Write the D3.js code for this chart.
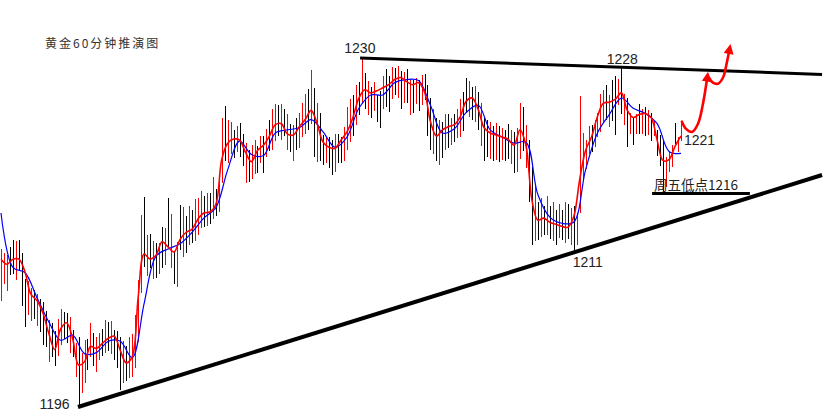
<!DOCTYPE html>
<html><head><meta charset="utf-8">
<script src="https://cdn.jsdelivr.net/npm/d3@7"></script>
<style>body{margin:0;background:#fff}svg{display:block}</style>
</head><body>
<svg id="c" width="832" height="413"></svg>
<script>
// 60-minute bars: high, low, up(1 = red / rising, 0 = black / falling)
const hi=[1211.4,1211.0,1210.8,1211.6,1212.3,1212.2,1212.3,1211.0,1208.5,1208.3,
1207.6,1207.4,1207.0,1206.5,1206.2,1205.4,1204.5,1204.2,1203.4,1204.6,
1205.5,1205.3,1205.2,1204.8,1203.5,1202.2,1202.8,1201.3,1202.5,1202.6,
1204.2,1203.2,1202.8,1203.2,1203.6,1204.5,1204.3,1204.4,1203.5,1203.4,
1202.8,1202.4,1201.9,1202.8,1203.1,1205.0,1208.4,1214.7,1216.5,1212.8,
1212.9,1212.2,1212.0,1212.0,1213.5,1213.4,1216.4,1214.8,1211.2,1212.1,
1215.7,1215.5,1214.6,1215.6,1215.2,1216.3,1216.4,1217.0,1216.6,1216.8,
1216.8,1218.4,1217.2,1218.0,1224.2,1225.3,1224.0,1223.8,1223.0,1223.4,
1223.7,1222.6,1221.7,1221.0,1221.5,1222.0,1221.4,1222.4,1222.4,1223.1,
1224.0,1225.0,1225.5,1225.4,1225.5,1225.0,1224.5,1223.6,1223.5,1224.2,
1224.6,1225.6,1226.5,1227.0,1228.8,1227.1,1225.6,1224.6,1222.5,1222.3,
1222.3,1222.0,1222.6,1222.6,1222.3,1223.3,1225.2,1226.0,1226.4,1227.4,
1227.7,1230.0,1228.5,1227.8,1227.2,1227.7,1226.4,1226.8,1228.2,1228.9,
1228.2,1229.1,1229.0,1229.2,1228.7,1228.6,1228.9,1228.0,1227.9,1228.1,
1227.9,1228.3,1228.4,1227.4,1226.1,1225.0,1224.2,1224.0,1223.8,1224.5,
1224.5,1224.2,1224.5,1225.0,1226.0,1226.7,1228.1,1227.8,1227.2,1227.3,
1226.7,1225.6,1224.2,1224.0,1223.8,1223.4,1223.7,1223.4,1223.2,1223.0,
1223.6,1223.0,1222.8,1223.2,1225.6,1225.2,1223.5,1222.0,1219.4,1217.6,
1216.0,1216.4,1215.6,1216.6,1215.6,1216.0,1215.2,1215.8,1215.2,1216.0,
1215.8,1215.4,1215.6,1214.9,1226.3,1222.7,1222.0,1223.4,1223.5,1224.0,
1224.6,1226.5,1226.9,1227.4,1226.4,1227.9,1228.2,1228.0,1229.0,1226.5,
1226.1,1224.6,1224.2,1224.5,1225.5,1225.0,1225.2,1224.9,1224.6,1223.9,
1223.0,1222.5,1222.0,1220.4,1220.8,1221.5,1223.7,1222.3,1223.8];
const lo=[1206.3,1208.0,1207.3,1208.9,1209.0,1208.4,1209.3,1205.8,1203.8,1205.0,
1204.4,1204.6,1203.9,1203.3,1202.0,1201.8,1200.4,1200.9,1200.0,1201.0,
1202.0,1202.6,1202.2,1201.3,1200.9,1198.9,1196.0,1197.4,1198.3,1199.6,
1200.9,1200.0,1199.4,1200.6,1201.0,1201.3,1201.5,1201.2,1200.6,1199.8,
1197.7,1198.3,1198.5,1198.8,1198.9,1199.8,1202.3,1207.1,1209.6,1208.8,
1209.5,1208.5,1208.6,1209.0,1209.5,1209.8,1211.5,1209.5,1208.0,1207.7,
1211.3,1210.6,1211.0,1211.8,1212.0,1212.2,1212.8,1213.4,1213.5,1213.6,
1213.8,1214.3,1214.6,1215.0,1217.8,1220.0,1219.8,1220.6,1220.3,1220.8,
1220.4,1219.5,1217.8,1217.9,1218.2,1218.7,1218.8,1219.8,1218.8,1220.4,
1220.9,1221.0,1221.9,1222.4,1222.0,1222.4,1221.0,1220.8,1220.0,1221.0,
1221.2,1222.3,1222.6,1223.0,1223.6,1220.4,1219.9,1220.0,1219.6,1219.8,
1219.3,1218.6,1218.9,1219.8,1219.8,1220.0,1221.0,1221.8,1222.4,1223.5,
1224.4,1225.5,1225.0,1224.4,1224.2,1224.8,1223.8,1223.2,1225.0,1225.2,
1224.7,1226.0,1226.4,1226.1,1225.0,1225.6,1225.6,1224.4,1224.6,1225.5,
1224.8,1225.4,1225.9,1222.4,1221.0,1220.6,1220.0,1219.6,1220.3,1221.0,
1221.2,1221.5,1221.8,1222.2,1222.3,1222.9,1224.6,1224.3,1224.0,1223.8,
1223.0,1221.4,1220.0,1220.4,1220.2,1220.0,1220.1,1219.9,1220.1,1220.0,
1220.2,1219.7,1218.8,1218.9,1220.2,1220.9,1219.3,1216.0,1211.8,1212.2,
1212.3,1212.6,1212.8,1212.8,1212.4,1212.2,1211.8,1212.5,1212.3,1212.0,
1212.4,1211.8,1211.3,1211.8,1214.9,1218.2,1219.2,1220.6,1220.8,1221.3,
1222.3,1222.8,1223.8,1224.0,1223.3,1223.9,1222.5,1225.4,1224.5,1223.5,
1221.3,1222.6,1221.5,1222.6,1222.6,1222.6,1222.4,1222.5,1221.9,1222.4,
1220.5,1219.5,1216.8,1217.4,1218.9,1219.4,1221.6,1220.8,1221.9];
const up=[1,1,1,0,0,1,0,0,0,1, 1,0,1,0,0,0,1,0,0,1, 1,0,0,1,0,1,0,1,1,0,
1,0,1,1,0,1,0,1,0,0, 0,1,0,1,1,1,1,1,0,1, 0,1,0,1,0,1,0,1,0,1,
0,1,0,1,0,1,1,1,0,1, 0,1,0,1,1,0,1,1,0,1, 0,0,1,0,1,1,0,1,0,1,
0,1,1,0,1,0,1,0,1,0, 1,1,1,0,1,0,1,0,0,1, 0,0,1,0,0,1,1,1,0,1,
0,1,0,1,0,1,0,0,1,0, 0,1,0,1,0,1,0,1,0,1, 0,1,0,0,0,1,0,1,0,1,
0,1,0,1,1,0,0,1,0,1, 0,1,0,0,1,0,1,0,1,0, 0,1,0,1,1,0,1,0,0,1,
0,1,0,1,0,1,0,1,0,1, 0,1,0,1,1,1,1,1,0,1, 1,1,1,0,1,0,0,1,0,1,
0,1,0,1,0,1,0,1,0,1, 0,0,0,1,1,1,0,1,1];
// red (fast) moving average, one value every 2 bars
const maFast=[1210.4,1209.9,1210.4,1210.4,1209.2,1207.0,1206.4,1205.2,1203.2,1201.6,
1203.6,1204.2,1202.7,1200.1,1200.4,1201.9,1201.7,1202.2,1202.7,1202.9,
1201.5,1200.3,1200.9,1206.7,1210.9,1210.4,1210.8,1212.1,1211.6,1211.1,
1212.3,1213.0,1213.3,1214.3,1214.9,1215.0,1215.7,1220.1,1221.7,1222.1,
1222.0,1220.8,1219.9,1221.0,1221.5,1222.4,1223.5,1223.6,1222.6,1222.5,
1223.3,1224.0,1224.9,1223.6,1221.8,1221.3,1221.2,1222.0,1222.8,1224.2,
1226.1,1226.9,1226.6,1226.8,1227.1,1227.4,1227.9,1228.1,1227.7,1227.4,
1227.6,1226.7,1223.8,1222.4,1223.0,1223.3,1223.5,1224.3,1225.8,1226.1,
1225.0,1223.2,1222.7,1222.5,1222.3,1222.1,1221.5,1223.0,1221.5,1216.2,
1214.2,1214.4,1214.0,1213.8,1213.6,1213.5,1214.5,1218.1,1221.0,1222.3,
1224.3,1225.6,1225.7,1226.0,1226.6,1224.9,1224.2,1224.5,1224.6,1224.2,
1222.0,1220.0,1220.1,1221.4,1222.4];
// blue (slow) moving average, one value every 4 bars
const maSlow=[1214.9,1209.6,1209.1,1206.7,1204.3,1202.5,1203.0,1201.2,1201.3,1202.4,
1202.4,1200.8,1206.1,1210.7,1211.4,1211.9,1213.0,1214.4,1215.4,1219.1,
1221.9,1220.6,1220.5,1222.7,1223.0,1223.2,1224.0,1222.8,1221.3,1222.3,
1225.1,1226.4,1226.4,1227.6,1227.9,1227.8,1225.4,1222.7,1223.1,1224.7,
1225.4,1223.0,1222.3,1221.7,1221.8,1216.7,1214.5,1213.9,1214.0,1219.1,
1222.7,1224.5,1226.1,1225.1,1224.6,1223.6,1220.9,1220.7];
// annotations in (bar index, price)
const upperTrend=[[120.4,1230.0],[275.3,1228.4]];
const lowerTrend=[[25.8,1196.0],[275.3,1218.6]];
const fridayLine=[[218.3,1216.8],[251.1,1216.8]];
const arrowA=[[228.3,1223.8],[229.7,1223.1],[231.7,1222.8],[233.7,1223.6],[235.4,1225.6],[236.7,1227.9]];
const arrowB=[[237.4,1228.1],[238.7,1227.6],[240.4,1227.5],[242.1,1228.1],[243.4,1229.6],[244.1,1230.6]];
const priceLabels=[
 {t:"1230",i:121,p:1230.0,dx:-2,dy:-5,a:"middle"},
 {t:"1228",i:208,p:1229.0,dx:1,dy:-4,a:"middle"},
 {t:"1211",i:192,p:1211.3,dx:-1,dy:17,a:"start"},
 {t:"1196",i:26,p:1196.0,dx:-9,dy:2,a:"end"},
 {t:"1221",i:228,p:1221.0,dx:3,dy:-5,a:"start"}
];
const title="黄金60分钟推演图";
const fridayText="周五低点1216";

const svg=d3.select("#c");
svg.append("rect").attr("width",832).attr("height",413).attr("fill","#fff");
const x=d3.scaleLinear().domain([0,228]).range([1,681]);
const y=d3.scaleLinear().domain([1196,1230]).range([407,58]);

// bars
svg.append("g").attr("shape-rendering","crispEdges")
 .selectAll("line").data(hi).join("line")
 .attr("x1",(d,i)=>Math.round(x(i))+0.5).attr("x2",(d,i)=>Math.round(x(i))+0.5)
 .attr("y1",d=>y(d)).attr("y2",(d,i)=>y(lo[i]))
 .attr("stroke",(d,i)=>up[i]?"#ff0000":"#000000").attr("stroke-width",1);

// moving averages
svg.append("path").datum(maSlow).attr("fill","none").attr("stroke","#0000ff").attr("stroke-width",1.2)
 .attr("d",d3.line().x((d,j)=>x(4*j)).y(d=>y(d)).curve(d3.curveCatmullRom.alpha(0.5)));
svg.append("path").datum(maFast).attr("fill","none").attr("stroke","#ff0000").attr("stroke-width",1.6)
 .attr("d",d3.line().x((d,k)=>x(2*k)).y(d=>y(d)).curve(d3.curveCatmullRom.alpha(0.5)));

// trend lines
const L=d3.line().x(d=>x(d[0])).y(d=>y(d[1]));
svg.append("path").datum(upperTrend).attr("d",L).attr("stroke","#000").attr("stroke-width",3).attr("fill","none");
svg.append("path").datum(lowerTrend).attr("d",L).attr("stroke","#000").attr("stroke-width",4).attr("fill","none");
svg.append("path").datum(fridayLine).attr("d",L).attr("stroke","#000").attr("stroke-width",3).attr("fill","none");

// arrows
const defs=svg.append("defs");
defs.append("marker").attr("id","ah").attr("viewBox","0 0 10 10").attr("refX",2).attr("refY",5)
 .attr("markerUnits","userSpaceOnUse").attr("markerWidth",11).attr("markerHeight",10).attr("orient","auto")
 .append("path").attr("d","M0,0L10,5L0,10z").attr("fill","#ff0000");
const LC=d3.line().x(d=>x(d[0])).y(d=>y(d[1])).curve(d3.curveCatmullRom.alpha(0.5));
[arrowA,arrowB].forEach(a=>{
 svg.append("path").datum(a).attr("d",LC).attr("fill","none").attr("stroke","#ff0000")
  .attr("stroke-width",2.6).attr("stroke-linecap","round").attr("marker-end","url(#ah)");
});

// texts
svg.append("text").attr("x",45).attr("y",48).attr("font-family","'Noto Sans CJK SC',sans-serif")
 .attr("font-size",12).attr("letter-spacing",2).attr("fill","#333").text(title);
svg.selectAll("text.pl").data(priceLabels).join("text").attr("class","pl")
 .attr("x",d=>x(d.i)+d.dx).attr("y",d=>y(d.p)+d.dy).attr("text-anchor",d=>d.a)
 .attr("font-family","'Liberation Sans',Arial,sans-serif").attr("font-size",14).attr("fill","#222").text(d=>d.t);
svg.append("text").attr("x",x(fridayLine[0][0])+2).attr("y",y(fridayLine[0][1])-3)
 .attr("font-family","'Noto Sans CJK SC','Liberation Sans',sans-serif").attr("font-size",13.5)
 .attr("fill","#222").text(fridayText);
</script>
</body></html>
